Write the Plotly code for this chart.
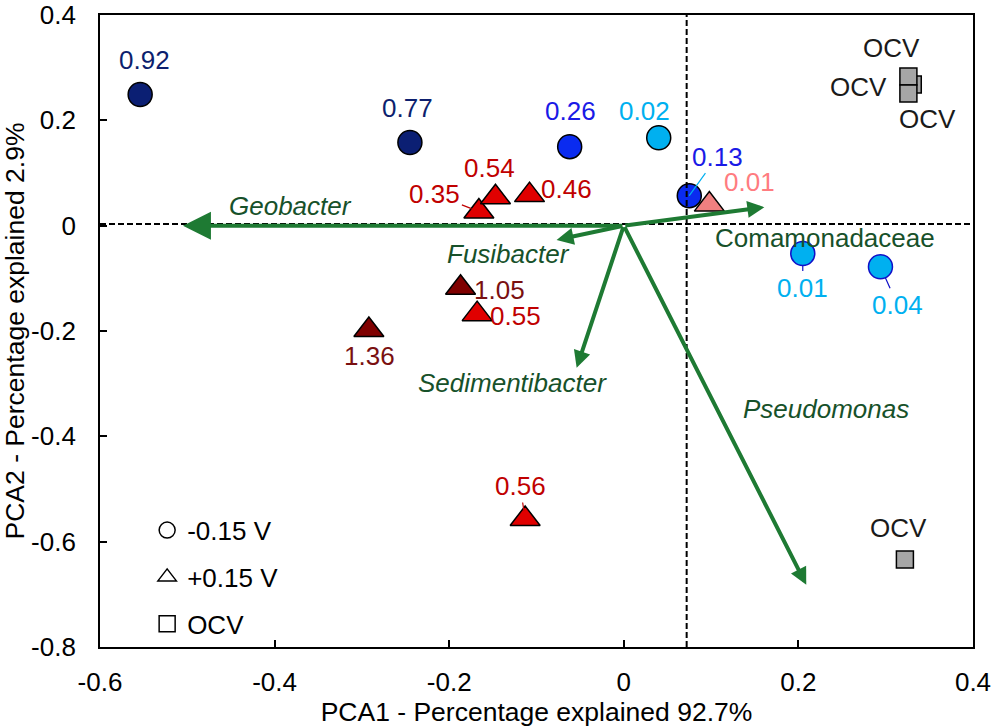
import plotly.graph_objects as go

# ---------------- data ----------------
circle_labels = ["0.92", "0.77", "0.26", "0.02", "0.13", "0.01", "0.04"]
circle_x = [-0.554, -0.245, -0.062, 0.040, 0.075, 0.205, 0.294]
circle_y = [0.249, 0.158, 0.150, 0.167, 0.057, -0.053, -0.078]

tri_labels = ["0.35", "0.54", "0.46", "0.01", "1.05", "0.55", "1.36", "0.56"]
tri_x = [-0.166, -0.147, -0.108, 0.098, -0.187, -0.168, -0.292, -0.113]
tri_y = [0.027, 0.054, 0.058, 0.040, -0.118, -0.168, -0.198, -0.557]

sq_labels = ["OCV", "OCV", "OCV", "OCV"]
sq_x = [0.331, 0.326, 0.326, 0.322]
sq_y = [0.268, 0.283, 0.251, -0.634]

vec_names = ["Geobacter", "Comamonadaceae", "Fusibacter", "Sedimentibacter", "Pseudomonas"]
vec_x = [-0.505, 0.161, -0.077, -0.054, 0.209]
vec_y = [0.0, 0.035, -0.027, -0.270, -0.682]

x_ticks = [-0.6, -0.4, -0.2, 0, 0.2, 0.4]
x_ticktext = ["-0.6", "-0.4", "-0.2", "0", "0.2", "0.4"]
y_ticks = [-0.8, -0.6, -0.4, -0.2, 0, 0.2, 0.4]
y_ticktext = ["-0.8", "-0.6", "-0.4", "-0.2", "0", "0.2", "0.4"]

ref_x = 0.072   # vertical dashed reference line
ref_y = 0.003   # horizontal dashed reference line

# ---------------- styles / label placement ----------------
FONT = "Liberation Sans, Arial, sans-serif"
FS = 26
NAVY = "#0B1F73"
BLUE = "#0A2BF0"
LBLUE = "#00B0F0"
RED = "#E00000"
DRED = "#7F0000"
PINK = "#F08080"
GREEN = "#1E7A33"
GTEXT = "#17512A"

circle_fill = [NAVY, NAVY, BLUE, LBLUE, BLUE, LBLUE, LBLUE]
circle_edge = ["black", "black", "black", "black", "black", "#1010C8", "#1010C8"]
circle_tcol = ["#0D1F6E", "#0D1F6E", "#1A1AE6", LBLUE, "#1A1AE6", LBLUE, LBLUE]
circle_dx = [4, -2, 1, -14, 28, 0, 17]
circle_dy = [-35, -34, -36, -27, -39, 34, 38]
circle_leader = [None, None, None, None, LBLUE, "#1010C8", "#1010C8"]
circle_stand = [0, 0, 0, 0, 0, 12, 12]

tri_fill = [RED, RED, RED, PINK, DRED, RED, DRED, RED]
tri_tcol = ["#C00000", "#C00000", "#C00000", "#FF7C80", "#7A1010", "#C00000", "#7A1010", "#C00000"]
tri_dx = [-44, -6, 37, 40, 39, 38, 1, -5]
tri_dy = [-17, -29, -6, -23, 2, 2, 26, -33]
tri_leader = ["#C00000", None, None, None, None, None, None, "#C00000"]
tri_stand = [8, 0, 0, 0, 0, 0, 0, 8]

sq_dx = [-54, -17, 19, -6]
sq_dy = [2, -29, 26, -32]

vec_lab_x = [-0.382, 0.230, -0.132, -0.128, 0.232]
vec_lab_y = [0.038, -0.023, -0.053, -0.298, -0.349]
vec_italic = [True, False, True, True, True]
vec_headsize = [1.4, 0.85, 0.85, 0.85, 0.85]

fig = go.Figure()

fig.add_trace(go.Scatter(
    x=sq_x, y=sq_y, mode="markers", showlegend=False, hoverinfo="skip",
    marker=dict(symbol="square", size=17, color="#A6A6A6", line=dict(color="black", width=1.5))))
fig.add_trace(go.Scatter(
    x=circle_x, y=circle_y, mode="markers", showlegend=False, hoverinfo="skip",
    marker=dict(symbol="circle", size=24, color=circle_fill, line=dict(color=circle_edge, width=1.5))))
fig.add_trace(go.Scatter(
    x=tri_x, y=tri_y, mode="markers", showlegend=False, hoverinfo="skip",
    marker=dict(symbol="triangle-up", size=26, color=tri_fill, line=dict(color="black", width=1.5))))

# legend key (symbols only)
for name, sym in [("-0.15 V", "circle-open"), ("+0.15 V", "triangle-up-open"), ("OCV", "square-open")]:
    fig.add_trace(go.Scatter(
        x=[None], y=[None], mode="markers", name=name, legendgroup=name,
        marker=dict(symbol=sym, size=18, color="black", line=dict(color="black", width=1.5))))

annotations = []
# data labels
for i, t in enumerate(circle_labels):
    if circle_leader[i]:
        annotations.append(dict(x=circle_x[i], y=circle_y[i], xref="x", yref="y", text=t,
                                showarrow=True, ax=circle_dx[i], ay=circle_dy[i], arrowhead=0,
                                arrowwidth=1.2, arrowcolor=circle_leader[i], standoff=circle_stand[i],
                                font=dict(size=FS, color=circle_tcol[i], family=FONT)))
    else:
        annotations.append(dict(x=circle_x[i], y=circle_y[i], xref="x", yref="y", text=t,
                                showarrow=False, xshift=circle_dx[i], yshift=-circle_dy[i],
                                font=dict(size=FS, color=circle_tcol[i], family=FONT)))
for i, t in enumerate(tri_labels):
    if tri_leader[i]:
        annotations.append(dict(x=tri_x[i], y=tri_y[i], xref="x", yref="y", text=t,
                                showarrow=True, ax=tri_dx[i], ay=tri_dy[i], arrowhead=0,
                                arrowwidth=1.2, arrowcolor=tri_leader[i], standoff=tri_stand[i],
                                font=dict(size=FS, color=tri_tcol[i], family=FONT)))
    else:
        annotations.append(dict(x=tri_x[i], y=tri_y[i], xref="x", yref="y", text=t,
                                showarrow=False, xshift=tri_dx[i], yshift=-tri_dy[i],
                                font=dict(size=FS, color=tri_tcol[i], family=FONT)))
for i, t in enumerate(sq_labels):
    annotations.append(dict(x=sq_x[i], y=sq_y[i], xref="x", yref="y", text=t,
                            showarrow=False, xshift=sq_dx[i], yshift=-sq_dy[i],
                            font=dict(size=FS, color="#1A1A1A", family=FONT)))

# loading vectors
for i, n in enumerate(vec_names):
    annotations.append(dict(x=vec_x[i], y=vec_y[i], xref="x", yref="y",
                            ax=0, ay=0, axref="x", ayref="y", text="",
                            showarrow=True, arrowhead=2, arrowwidth=4,
                            arrowsize=vec_headsize[i], arrowcolor=GREEN, standoff=0))
    txt = "<i>%s</i>" % n if vec_italic[i] else n
    annotations.append(dict(x=vec_lab_x[i], y=vec_lab_y[i], xref="x", yref="y", text=txt,
                            showarrow=False, font=dict(size=FS, color=GTEXT, family=FONT)))

shapes = [
    dict(type="line", xref="x", yref="paper", x0=ref_x, x1=ref_x, y0=0, y1=1,
         line=dict(color="black", width=2, dash="6px,3px"), layer="above"),
    dict(type="line", xref="paper", yref="y", x0=0, x1=1, y0=ref_y, y1=ref_y,
         line=dict(color="black", width=2, dash="6px,3px"), layer="below"),
]

axis_common = dict(showgrid=False, zeroline=False, showline=True, linecolor="black",
                   linewidth=1.8, mirror=True, ticks="inside", ticklen=7, tickwidth=1.5,
                   tickcolor="black", automargin=False, ticklabeloverflow="allow",
                   tickfont=dict(size=FS, color="black", family=FONT))

fig.update_layout(
    width=992, height=727,
    margin=dict(l=100, r=19, t=15, b=80),
    paper_bgcolor="white", plot_bgcolor="white",
    font=dict(family=FONT, color="black"),
    xaxis=dict(range=[-0.6, 0.4], tickvals=x_ticks, ticktext=x_ticktext,
               ticklabelstandoff=11,
               title=dict(text="PCA1 - Percentage explained 92.7%", font=dict(size=26.5, family=FONT),
                          standoff=5),
               **axis_common),
    yaxis=dict(range=[-0.8, 0.4], tickvals=y_ticks, ticktext=y_ticktext,
               ticklabelstandoff=17,
               title=dict(text="PCA2 - Percentage explained 2.9%", font=dict(size=26.5, family=FONT),
                          standoff=4),
               **axis_common),
    legend=dict(x=0.054, y=0.222, xanchor="left", yanchor="top", bgcolor="rgba(0,0,0,0)",
                font=dict(size=FS, color="black", family=FONT), tracegroupgap=10,
                itemsizing="trace"),
    annotations=annotations,
    shapes=shapes,
)

fig.write_html("out.html", config={"displayModeBar": False},
               post_script="document.body.style.margin='0';document.body.style.overflow='hidden';")
